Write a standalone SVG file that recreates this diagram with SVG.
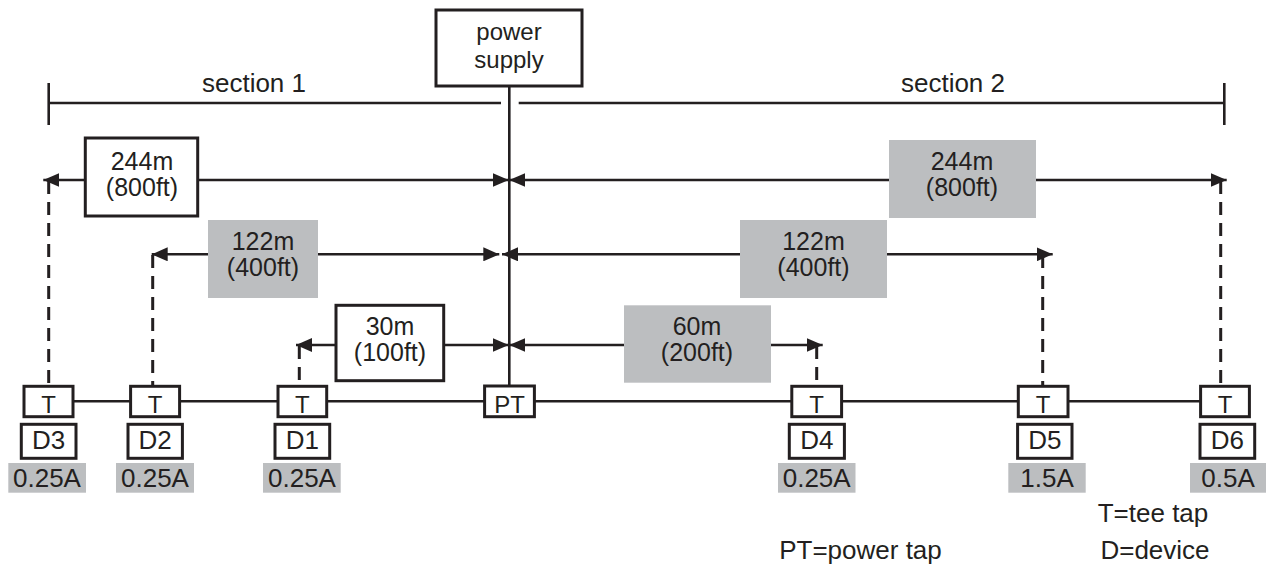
<svg xmlns="http://www.w3.org/2000/svg" width="1267" height="571" viewBox="0 0 1267 571">
<style>
text{font-family:"Liberation Sans",Arial,sans-serif;font-size:26px;fill:#231f20;text-anchor:middle}
.t24{font-size:24px}
.two{font-size:25px}
.ps{font-size:24px}
.box{fill:#fff;stroke:#231f20;stroke-width:3}
.gray{fill:#bcbec0;stroke:none}
.ln{stroke:#231f20;stroke-width:2.6;fill:none}
.dash{stroke:#231f20;stroke-width:3;fill:none;stroke-dasharray:13 8}
.arr{stroke:#231f20;stroke-width:2.6;fill:none;marker-start:url(#ah);marker-end:url(#ah)}
</style>
<defs>
<marker id="ah" viewBox="0 0 16 14" refX="16" refY="7" markerWidth="16" markerHeight="14" markerUnits="userSpaceOnUse" orient="auto-start-reverse">
<path d="M0,0 L16,7 L0,14 Z" fill="#231f20"/>
</marker>
</defs>
<g id="connectors">
<line class="ln" x1="509.3" y1="87" x2="509.3" y2="386"/>
<line class="ln" x1="48.7" y1="103" x2="501" y2="103"/>
<line class="ln" x1="518.7" y1="103" x2="1224.3" y2="103"/>
<line class="ln" x1="48.7" y1="83" x2="48.7" y2="125"/>
<line class="ln" x1="1224.3" y1="83" x2="1224.3" y2="125"/>
<line class="ln" x1="48" y1="401.3" x2="1225" y2="401.3"/>
<line class="arr" x1="43.3" y1="180" x2="508.7" y2="180"/>
<line class="arr" x1="509.3" y1="180" x2="1226.7" y2="180"/>
<line class="arr" x1="151.7" y1="254.3" x2="499.3" y2="254.3"/>
<line class="arr" x1="502" y1="254.3" x2="1052.7" y2="254.3"/>
<line class="arr" x1="296" y1="345" x2="508.7" y2="345"/>
<line class="arr" x1="509.3" y1="345" x2="822.7" y2="345"/>
<line class="dash" x1="48.7" y1="181" x2="48.7" y2="385"/>
<line class="dash" x1="152.7" y1="255" x2="152.7" y2="385"/>
<line class="dash" x1="299.3" y1="346" x2="299.3" y2="385"/>
<line class="dash" x1="816.7" y1="346" x2="816.7" y2="385"/>
<line class="dash" x1="1042.7" y1="255" x2="1042.7" y2="385"/>
<line class="dash" x1="1220.7" y1="181" x2="1220.7" y2="385"/>
</g>
<g id="power-supply">
<rect class="box" x="436" y="10" width="146" height="76"/>
<text class="ps" x="509" y="40">power</text>
<text class="ps" x="509" y="68">supply</text>
</g>
<g id="section-labels">
<text x="254" y="92">section 1</text>
<text x="953" y="92">section 2</text>
</g>
<g id="dist-244-left">
<rect class="box" x="85.3" y="138" width="112.4" height="78"/>
<text class="two" x="142" y="170">244m</text>
<text class="two" x="142" y="196">(800ft)</text>
</g>
<g id="dist-244-right">
<rect class="gray" x="889" y="140" width="147" height="78"/>
<text class="two" x="962" y="170">244m</text>
<text class="two" x="962" y="196">(800ft)</text>
</g>
<g id="dist-122-left">
<rect class="gray" x="208" y="220" width="110" height="78"/>
<text class="two" x="263" y="250">122m</text>
<text class="two" x="263" y="276">(400ft)</text>
</g>
<g id="dist-122-right">
<rect class="gray" x="740" y="220" width="147" height="78"/>
<text class="two" x="813.5" y="250">122m</text>
<text class="two" x="813.5" y="276">(400ft)</text>
</g>
<g id="dist-30">
<rect class="box" x="336" y="305.3" width="107.7" height="75.4"/>
<text class="two" x="390" y="335">30m</text>
<text class="two" x="390" y="361">(100ft)</text>
</g>
<g id="dist-60">
<rect class="gray" x="624" y="305.3" width="147" height="77.4"/>
<text class="two" x="697" y="335">60m</text>
<text class="two" x="697" y="361">(200ft)</text>
</g>
<g id="T3"><rect class="box" x="24" y="386.3" width="49" height="30.4"/><text class="t24" x="48.5" y="413">T</text></g>
<g id="T2"><rect class="box" x="130.6" y="386.3" width="49" height="30.4"/><text class="t24" x="155" y="413">T</text></g>
<g id="T1"><rect class="box" x="278" y="386.3" width="48.7" height="30.4"/><text class="t24" x="302.3" y="413">T</text></g>
<g id="PT"><rect class="box" x="484.6" y="386" width="49.8" height="30.7"/><text class="t24" x="509.5" y="413">PT</text></g>
<g id="T4"><rect class="box" x="791.8" y="386.3" width="49.8" height="30.4"/><text class="t24" x="816.7" y="413">T</text></g>
<g id="T5"><rect class="box" x="1018.3" y="386.3" width="49.7" height="30.4"/><text class="t24" x="1043" y="413">T</text></g>
<g id="T6"><rect class="box" x="1200.6" y="386.3" width="48.8" height="30.4"/><text class="t24" x="1225" y="413">T</text></g>
<g id="D3"><rect class="box" x="21.3" y="424.3" width="54.7" height="34"/><text x="48.6" y="449">D3</text><rect class="gray" x="8.3" y="463" width="77.7" height="29.7"/><text x="47" y="487">0.25A</text></g>
<g id="D2"><rect class="box" x="128" y="424.3" width="54.4" height="34"/><text x="155.2" y="449">D2</text><rect class="gray" x="116" y="463" width="78" height="29.7"/><text x="155" y="487">0.25A</text></g>
<g id="D1"><rect class="box" x="275" y="424.3" width="54.7" height="34"/><text x="302.3" y="449">D1</text><rect class="gray" x="263" y="463" width="77.7" height="29.7"/><text x="302" y="487">0.25A</text></g>
<g id="D4"><rect class="box" x="789.3" y="424.3" width="55.1" height="34"/><text x="816.8" y="449">D4</text><rect class="gray" x="778" y="463" width="77.5" height="29.7"/><text x="816.7" y="487">0.25A</text></g>
<g id="D5"><rect class="box" x="1017.6" y="424.3" width="54.4" height="34"/><text x="1044.8" y="449">D5</text><rect class="gray" x="1008.3" y="463" width="77.4" height="29.7"/><text x="1047" y="487">1.5A</text></g>
<g id="D6"><rect class="box" x="1200" y="424.3" width="54.7" height="34"/><text x="1227.3" y="449">D6</text><rect class="gray" x="1190" y="463" width="76" height="29.7"/><text x="1228" y="487">0.5A</text></g>
<g id="legend">
<text x="1153" y="522">T=tee tap</text>
<text x="1155" y="559">D=device</text>
<text x="860.5" y="559">PT=power tap</text>
</g>
</svg>
